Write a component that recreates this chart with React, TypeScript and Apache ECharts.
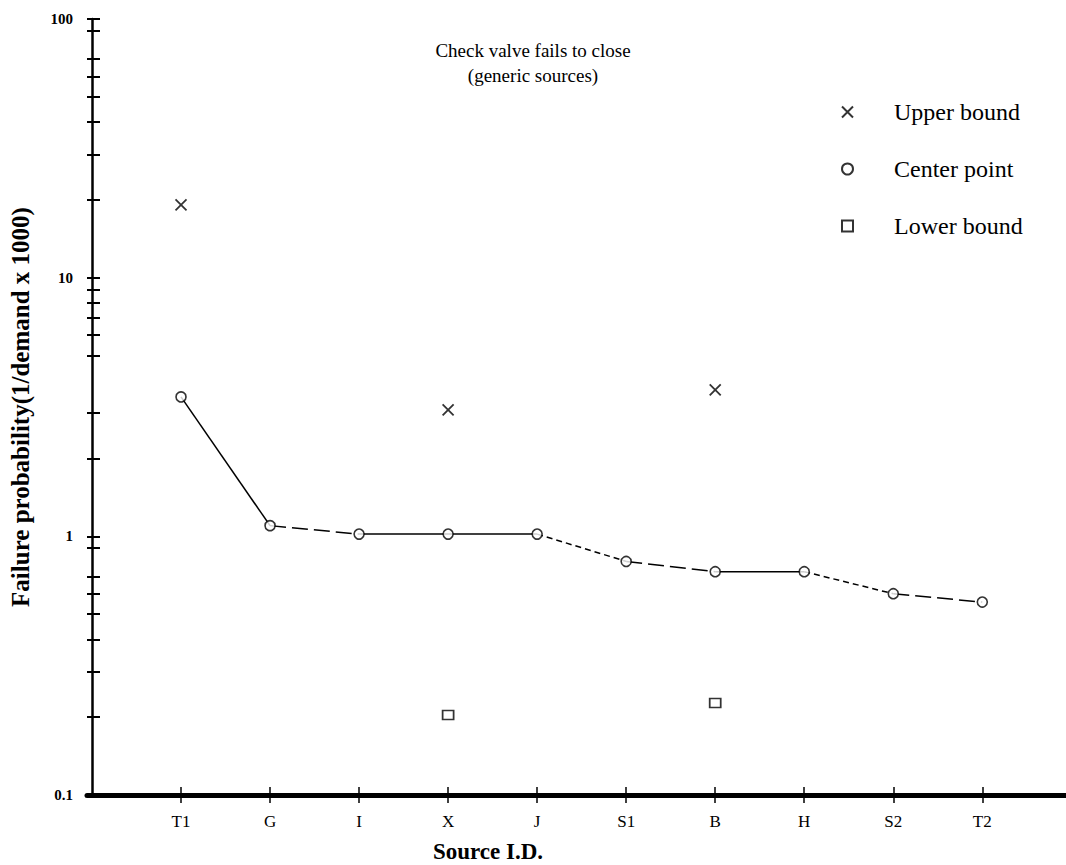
import React, { useEffect, useRef } from 'react';
import * as echarts from 'echarts';

const categories = ['T1', 'G', 'I', 'X', 'J', 'S1', 'B', 'H', 'S2', 'T2'];
const centerPoint = [3.46, 1.1, 1.02, 1.02, 1.02, 0.8, 0.73, 0.73, 0.6, 0.557];
const upperBound: (number | null)[] = [19.1, null, null, 3.08, null, null, 3.68, null, null, null];
const lowerBound: (number | null)[] = [null, null, null, 0.204, null, null, 0.227, null, null, null];
// dash style of each segment between consecutive center points
const segmentStyles = ['solid', 'long', 'solid', 'solid', 'short', 'long', 'solid', 'short', 'long'];
const yTickLabels = [0.1, 1, 10, 100];
const yMinorTicks = [0.2, 0.3, 0.4, 0.5, 0.6, 0.7, 0.9, 2, 3, 5, 6, 7, 8, 9, 20, 30, 40, 50, 60, 70, 90];

const FONT = 'Liberation Serif';

export default function App() {
  const ref = useRef<HTMLDivElement>(null);
  useEffect(() => {
    const chart = echarts.init(ref.current!, null, { renderer: 'svg' });
    const xs = categories.map((_, i) => i + 1);
    const yTicks = [...yTickLabels, ...yMinorTicks].sort((a, b) => a - b);
    const pairs = (arr: (number | null)[]) =>
      arr.map((v, i) => [i + 1, v]).filter((d) => d[1] != null);
    const dashFor = (s: string): any => (s === 'solid' ? 'solid' : s === 'long' ? [16, 6] : [6, 4]);
    const segSeries = segmentStyles.map((s, i) => ({
      type: 'line',
      name: 'segment' + i,
      data: [
        [i + 1, centerPoint[i]],
        [i + 2, centerPoint[i + 1]],
      ],
      showSymbol: false,
      symbol: 'none',
      silent: true,
      z: 2,
      lineStyle: { color: '#000', width: 1.5, type: dashFor(s) },
    }));
    const xMin = -0.056;
    const xMax = 10.94;
    const option: any = {
      animation: false,
      backgroundColor: '#fff',
      title: {
        text: 'Check valve fails to close\n(generic sources)',
        left: 'center',
        top: 33,
        textStyle: { fontFamily: FONT, fontSize: 19, fontWeight: 'normal', color: '#000', lineHeight: 25 },
      },
      legend: {
        data: ['Upper bound', 'Center point', 'Lower bound'],
        orient: 'vertical',
        left: 841,
        top: 100,
        padding: 0,
        itemWidth: 11,
        itemHeight: 11,
        itemGap: 33,
        selectedMode: false,
        textStyle: { fontFamily: FONT, fontSize: 24, color: '#000', padding: [0, 0, 0, 36] },
      },
      grid: { left: 87, right: 0, top: 19, bottom: 70, outerBoundsMode: 'none', containLabel: false },
      xAxis: [
        {
          type: 'value',
          min: xMin,
          max: xMax,
          position: 'bottom',
          name: 'Source I.D.',
          nameLocation: 'middle',
          nameGap: 45,
          nameTextStyle: { fontFamily: FONT, fontSize: 23, fontWeight: 'bold', color: '#000', padding: [0, 177, 0, 0] },
          axisLine: { onZero: false, lineStyle: { color: '#000', width: 5 } },
          axisTick: { customValues: xs, length: 8, lineStyle: { color: '#000', width: 1.5 } },
          axisLabel: {
            customValues: xs,
            formatter: (v: number) => categories[Math.round(v) - 1] ?? '',
            margin: 18,
            fontFamily: FONT,
            fontSize: 17,
            color: '#000',
          },
          splitLine: { show: false },
        },
        {
          type: 'value',
          min: xMin,
          max: xMax,
          position: 'bottom',
          axisLine: { show: false, onZero: false },
          axisTick: { customValues: xs, inside: true, length: 8, lineStyle: { color: '#000', width: 1.5 } },
          axisLabel: { show: false },
          splitLine: { show: false },
        },
      ],
      yAxis: [
        {
          type: 'log',
          logBase: 10,
          min: 0.1,
          max: 100,
          position: 'left',
          name: 'Failure probability(1/demand x 1000)',
          nameLocation: 'middle',
          nameGap: 54,
          nameTextStyle: { fontFamily: FONT, fontSize: 25, fontWeight: 'bold', color: '#000' },
          axisLine: { onZero: true, lineStyle: { color: '#000', width: 2.5 } },
          axisTick: { customValues: yTicks, length: 5, lineStyle: { color: '#000', width: 2 } },
          axisLabel: {
            customValues: yTickLabels,
            formatter: (v: number) => String(Number(v.toPrecision(3))),
            margin: 14,
            fontFamily: FONT,
            fontSize: 15,
            fontWeight: 'bold',
            color: '#000',
          },
          splitLine: { show: false },
        },
        {
          type: 'log',
          logBase: 10,
          min: 0.1,
          max: 100,
          position: 'left',
          axisLine: { show: false, onZero: true },
          axisTick: { customValues: yTicks, inside: true, length: 8, lineStyle: { color: '#000', width: 2 } },
          axisLabel: { show: false },
          splitLine: { show: false },
        },
      ],
      series: [
        ...segSeries,
        {
          type: 'scatter',
          name: 'Upper bound',
          data: pairs(upperBound),
          symbol: 'path://M0,0L10,10M10,0L0,10',
          symbolSize: 11,
          clip: false,
          z: 5,
          itemStyle: { color: 'rgba(0,0,0,0)', borderColor: '#000', borderWidth: 1.8 },
        },
        {
          type: 'scatter',
          name: 'Center point',
          data: pairs(centerPoint),
          symbol: 'circle',
          symbolSize: 10,
          clip: false,
          z: 5,
          itemStyle: { color: '#fff', borderColor: '#000', borderWidth: 1.6 },
        },
        {
          type: 'scatter',
          name: 'Lower bound',
          data: pairs(lowerBound),
          symbol: 'rect',
          symbolSize: [11, 9],
          clip: false,
          z: 5,
          itemStyle: { color: '#fff', borderColor: '#000', borderWidth: 1.6 },
        },
      ],
    };
    chart.setOption(option);
    return () => chart.dispose();
  }, []);
  return (
    <div
      ref={ref}
      style={{ position: 'fixed', left: 0, top: 0, width: '1066px', height: '865px', background: '#fff' }}
    />
  );
}
